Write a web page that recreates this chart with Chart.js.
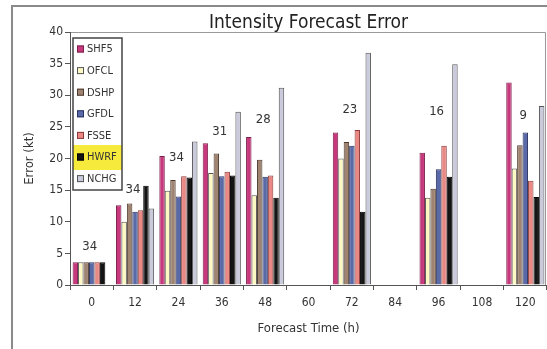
<!DOCTYPE html>
<html>
<head>
<meta charset="utf-8">
<script src="https://cdn.jsdelivr.net/npm/chart.js@4.4.1/dist/chart.umd.min.js"></script>
<style>
    html, body { margin: 0; padding: 0; background: #fff; }
    #wrap { width: 547px; height: 349px; position: relative; }
</style>
</head>
<body>
<div id="wrap"><canvas id="errorChart"></canvas></div>
<script>
const hours = ["0", "12", "24", "36", "48", "60", "72", "84", "96", "108", "120"];
const shf5 = [3.6, 12.6, 20.4, 22.4, 23.4, null, 24.1, null, 20.9, null, 32.0];
const ofcl = [3.6, 10.0, 14.9, 17.7, 14.2, null, 20.0, null, 13.8, null, 18.4];
const dshp = [3.6, 12.9, 16.6, 20.8, 19.8, null, 22.6, null, 15.2, null, 22.1];
const gfdl = [3.6, 11.6, 14.0, 17.2, 17.1, null, 22.0, null, 18.3, null, 24.1];
const fsse = [3.6, 11.8, 17.2, 17.9, 17.3, null, 24.5, null, 22.0, null, 16.5];
const hwrf = [3.6, 15.7, 17.0, 17.3, 13.8, null, 11.6, null, 17.1, null, 13.9];
const nchg = [null, 12.1, 22.7, 27.4, 31.2, null, 36.7, null, 34.9, null, 28.3];
// number of cases per lead time, and the height (kt) where each count is written
const caseCounts = [34, 34, 34, 31, 28, null, 23, null, 16, null, 9];
const countHeights = [6.0, 15.1, 20.2, 24.2, 26.2, null, 27.8, null, 27.4, null, 26.7];
const yTicks = [0, 5, 10, 15, 20, 25, 30, 35, 40];

const FONT = "'Liberation Sans Narrow', 'DejaVu Sans Condensed', 'Liberation Sans', Arial, sans-serif";
Chart.defaults.font.family = FONT;
Chart.defaults.color = "#333";

function series(label, data, fill, border) {
    return {
        label: label,
        data: data,
        backgroundColor: fill,
        borderColor: border,
        borderWidth: 1,
        categoryPercentage: 0.88,
        barPercentage: 1.0,
    };
}

// frame, plot border and title
const framePlugin = {
    id: "frame",
    beforeDraw(chart) {
        const ctx = chart.ctx;
        const a = chart.chartArea;
        ctx.save();
        ctx.strokeStyle = "#8a8a8a";
        ctx.lineWidth = 2;
        ctx.beginPath();
        ctx.moveTo(12, 349);
        ctx.lineTo(12, 6);
        ctx.lineTo(547, 6);
        ctx.stroke();
        ctx.strokeStyle = "#999";
        ctx.lineWidth = 1;
        ctx.beginPath();
        ctx.moveTo(a.left, a.top + 0.5);
        ctx.lineTo(a.right - 1.5, a.top + 0.5);
        ctx.lineTo(a.right - 1.5, a.bottom);
        ctx.stroke();
        ctx.fillStyle = "#222";
        ctx.font = "19px " + FONT;
        ctx.textAlign = "center";
        ctx.textBaseline = "alphabetic";
        ctx.fillText("Intensity Forecast Error", (a.left + a.right) / 2, 28);
        ctx.restore();
    },
};

// case counts and the boxed legend inside the plot
const overlayPlugin = {
    id: "overlay",
    afterDatasetsDraw(chart) {
        const ctx = chart.ctx;
        const xs = chart.scales.x;
        const ys = chart.scales.y;
        ctx.save();
        ctx.fillStyle = "#333";
        ctx.font = "13px " + FONT;
        ctx.textAlign = "center";
        ctx.textBaseline = "middle";
        caseCounts.forEach((n, i) => {
            if (n === null) return;
            ctx.fillText(String(n), xs.getPixelForValue(i) - 2, ys.getPixelForValue(countHeights[i]));
        });

        const a = chart.chartArea;
        const bx = a.left + 3, by = a.top + 6, bw = 49, bh = 152;
        ctx.fillStyle = "#fff";
        ctx.fillRect(bx, by, bw, bh);
        const step = 21.6;
        chart.data.datasets.forEach((ds, i) => {
            const cy = by + 11 + i * step;
            if (ds.label === "HWRF") {
                ctx.fillStyle = "#f6ea3c";
                ctx.fillRect(bx, cy - 12, bw, 25);
            }
            ctx.fillStyle = ds.backgroundColor;
            ctx.fillRect(bx + 4, cy - 3.5, 7, 7);
            ctx.strokeStyle = ds.borderColor;
            ctx.lineWidth = 1;
            ctx.strokeRect(bx + 4.5, cy - 3, 6, 6);
            ctx.fillStyle = "#333";
            ctx.font = "11px " + FONT;
            ctx.textAlign = "left";
            ctx.fillText(ds.label, bx + 14, cy + 0.5);
        });
        ctx.strokeStyle = "#444";
        ctx.lineWidth = 1.5;
        ctx.strokeRect(bx, by, bw, bh);
        ctx.restore();
    },
};

const ctx = document.getElementById("errorChart").getContext("2d");
const errorChart = new Chart(ctx, {
    type: "bar",
    data: {
        labels: hours,
        datasets: [
            series("SHF5", shf5, "#c8387c", "#7a1f4a"),
            series("OFCL", ofcl, "#fdf8c4", "#555"),
            series("DSHP", dshp, "#a08472", "#4e3a2e"),
            series("GFDL", gfdl, "#5a6aa8", "#2c3560"),
            series("FSSE", fsse, "#ea8884", "#8a3a3a"),
            series("HWRF", hwrf, "#141414", "#000"),
            series("NCHG", nchg, "#c9cadb", "#555"),
        ],
    },
    options: {
        responsive: true,
        maintainAspectRatio: false,
        animation: false,
        layout: {
            padding: { left: 12, top: 32, right: 0, bottom: 0 },
        },
        plugins: {
            legend: { display: false },
            title: { display: false },
            tooltip: { enabled: false },
        },
        scales: {
            x: {
                grid: {
                    drawOnChartArea: false,
                    drawTicks: true,
                    tickLength: 5,
                    color: "#555",
                },
                border: { color: "#555" },
                ticks: {
                    padding: 6,
                    font: { size: 12 },
                    color: "#333",
                    maxRotation: 0,
                },
                title: {
                    display: true,
                    text: "Forecast Time (h)",
                    font: { size: 13 },
                    color: "#333",
                    padding: { top: 4, bottom: 13 },
                },
                afterFit(scale) { scale.height = 64; },
            },
            y: {
                min: 0,
                max: 40,
                grid: {
                    drawOnChartArea: false,
                    drawTicks: true,
                    tickLength: 5,
                    color: "#555",
                },
                border: { color: "#555" },
                afterBuildTicks(scale) {
                    scale.ticks = yTicks.map(v => ({ value: v }));
                },
                ticks: {
                    padding: 2,
                    font: { size: 12 },
                    color: "#333",
                },
                title: {
                    display: true,
                    text: "Error (kt)",
                    font: { size: 13 },
                    color: "#333",
                    padding: { top: 10, bottom: 0 },
                },
                afterFit(scale) { scale.width = 58; },
            },
        },
    },
    plugins: [framePlugin, overlayPlugin],
});
</script>
</body>
</html>
